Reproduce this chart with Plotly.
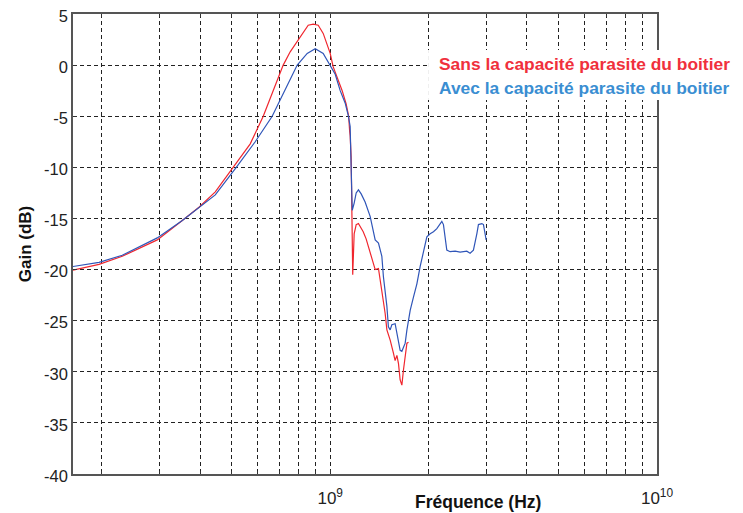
import plotly.graph_objects as go

# ---- data ----
freq_red = [1.633e8, 1.962e8, 2.311e8, 2.957e8, 3.527e8, 3.967e8, 4.450e8, 5.052e8, 5.306e8, 5.693e8,
            6.239e8, 6.787e8, 7.181e8, 7.544e8, 7.926e8, 8.268e8, 8.565e8, 8.872e8, 9.190e8, 9.519e8,
            9.791e8, 1.0e9, 1.021e9, 1.058e9, 1.088e9, 1.119e9, 1.139e9, 1.147e9, 1.151e9, 1.159e9,
            1.163e9, 1.172e9, 1.184e9, 1.201e9, 1.220e9, 1.235e9, 1.262e9, 1.288e9, 1.310e9, 1.341e9,
            1.373e9, 1.405e9, 1.439e9, 1.473e9, 1.491e9, 1.526e9, 1.562e9, 1.580e9, 1.600e9, 1.618e9,
            1.637e9, 1.657e9, 1.676e9, 1.696e9, 1.717e9, 1.736e9]
gain_red = [-20.05, -19.5, -18.7, -17.1, -15.2, -13.9, -12.4, -10.0, -9.0, -7.7,
            -5.0, -2.0, 0.0, 1.3, 2.3, 3.2, 3.9, 4.0, 3.9, 3.1,
            2.0, 1.15, -0.15, -1.5, -2.5, -3.8, -5.0, -6.5, -6.9, -9.0,
            -14.5, -20.5, -16.5, -15.6, -15.5, -15.8, -16.3, -17.0, -17.8, -19.1,
            -20.0, -19.9, -22.0, -24.3, -25.9, -26.9, -28.2, -28.9, -28.4, -29.2,
            -30.8, -31.3, -29.8, -28.2, -27.2, -27.1]

freq_blue = [1.633e8, 1.962e8, 2.311e8, 2.957e8, 3.527e8, 3.967e8, 4.450e8, 5.159e8, 5.381e8, 5.896e8,
             6.645e8, 7.283e8, 7.926e8, 8.505e8, 8.999e8, 9.519e8, 1.0e9, 1.036e9, 1.073e9, 1.111e9,
             1.137e9, 1.151e9, 1.159e9, 1.168e9, 1.184e9, 1.201e9, 1.220e9, 1.244e9, 1.279e9, 1.325e9,
             1.373e9, 1.405e9, 1.439e9, 1.455e9, 1.491e9, 1.507e9, 1.526e9, 1.544e9, 1.580e9, 1.600e9,
             1.637e9, 1.657e9, 1.696e9, 1.717e9, 1.757e9, 1.798e9, 1.842e9, 1.885e9, 1.929e9, 1.976e9,
             2.022e9, 2.070e9, 2.120e9, 2.196e9, 2.221e9, 2.247e9, 2.274e9, 2.328e9, 2.412e9, 2.498e9,
             2.618e9, 2.680e9, 2.743e9, 2.810e9, 2.842e9, 2.911e9, 2.944e9, 2.979e9, 3.000e9]
gain_blue = [-19.7, -19.3, -18.6, -16.9, -15.2, -13.9, -12.7, -10.0, -9.2, -7.5,
             -5.0, -2.4, 0.0, 1.15, 1.6, 1.15, 0.0, -0.9, -2.5, -3.7,
             -5.0, -6.0, -10.0, -14.2, -13.5, -12.5, -12.2, -12.6, -13.4, -14.8,
             -17.1, -17.4, -18.7, -20.7, -23.6, -25.6, -25.9, -25.4, -25.3, -26.2,
             -27.9, -28.0, -27.2, -25.9, -24.0, -22.7, -21.4, -19.7, -18.1, -16.8,
             -16.5, -16.3, -16.0, -15.3, -15.6, -17.1, -18.1, -18.25, -18.2, -18.3,
             -18.2, -18.4, -18.1, -16.5, -15.6, -15.5, -15.6, -16.5, -17.1]

x_major = [1e9, 1e10]
x_major_text = ["10<sup>9</sup>", "10<sup>10</sup>"]
x_minor = [2e8, 3e8, 4e8, 5e8, 6e8, 7e8, 8e8, 9e8, 2e9, 3e9, 4e9, 5e9, 6e9, 7e9, 8e9, 9e9]
y_ticks = [5, 0, -5, -10, -15, -20, -25, -30, -35, -40]
y_tick_text = ["5", "0", "-5", "-10", "-15", "-20", "-25", "-30", "-35", "-40"]

name_red = "Sans la capacité parasite du boitier"
name_blue = "Avec la capacité parasite du boitier"

FONT = "Liberation Sans, Arial"

fig = go.Figure()
fig.add_trace(go.Scatter(x=freq_red, y=gain_red, mode="lines", name=name_red,
                         line=dict(color="#f0262e", width=1.2)))
fig.add_trace(go.Scatter(x=freq_blue, y=gain_blue, mode="lines", name=name_blue,
                         line=dict(color="#2f55b8", width=1.2)))

grid = dict(showgrid=True, gridcolor="#222222", gridwidth=1, griddash="4px,3px")

fig.update_xaxes(type="log", range=[8.213, 10.0], tickvals=x_major, ticktext=x_major_text,
                 showline=True, linecolor="#555555", linewidth=1.5, mirror="ticks",
                 ticks="inside", ticklen=4, tickcolor="#333333", automargin=False,
                 ticklabelstandoff=8, ticklabeloverflow="allow",
                 tickfont=dict(family=FONT, size=17, color="#222222"),
                 zeroline=False,
                 minor=dict(tickvals=x_minor, ticks="inside", ticklen=3, tickcolor="#333333",
                            **grid),
                 **grid)
fig.update_yaxes(range=[-40, 5], tickvals=y_ticks, ticktext=y_tick_text,
                 showline=True, linecolor="#555555", linewidth=1.5, mirror="ticks",
                 ticks="inside", ticklen=4, tickcolor="#333333", automargin=False,
                 ticklabeloverflow="allow", ticklabelshift=2,
                 tickfont=dict(family=FONT, size=16.5, color="#222222"),
                 zeroline=False,
                 title=dict(text="<b>Gain (dB)</b>", standoff=8,
                            font=dict(family=FONT, size=17, color="#111111")),
                 **grid)

# legend box (white background overlapping the plot)
fig.add_shape(type="rect", xref="paper", yref="paper", x0=0.608, x1=1.2, y0=0.813, y1=0.922,
              fillcolor="white", line=dict(width=0), layer="above")
fig.add_annotation(text="<b>" + name_red + "</b>", xref="paper", yref="paper", x=0.623, y=0.891,
                   xanchor="left", yanchor="middle", showarrow=False,
                   font=dict(family=FONT, size=17.4, color="#f0303c"))
fig.add_annotation(text="<b>" + name_blue + "</b>", xref="paper", yref="paper", x=0.623, y=0.839,
                   xanchor="left", yanchor="middle", showarrow=False,
                   font=dict(family=FONT, size=17.4, color="#3a8ed2"))
# x axis title (off-centre, as in the reference)
fig.add_annotation(text="<b>Fréquence (Hz)</b>", xref="paper", yref="paper", x=0.693, y=-0.061,
                   xanchor="center", yanchor="middle", showarrow=False,
                   font=dict(family=FONT, size=17.5, color="#111111"))

# the page body has an 8px margin, so the figure is sized to fit the window
fig.update_layout(width=735, height=505, showlegend=False,
                  margin=dict(l=65, r=86, t=6, b=39, autoexpand=False),
                  paper_bgcolor="white", plot_bgcolor="white")

fig.write_html("out.html")
